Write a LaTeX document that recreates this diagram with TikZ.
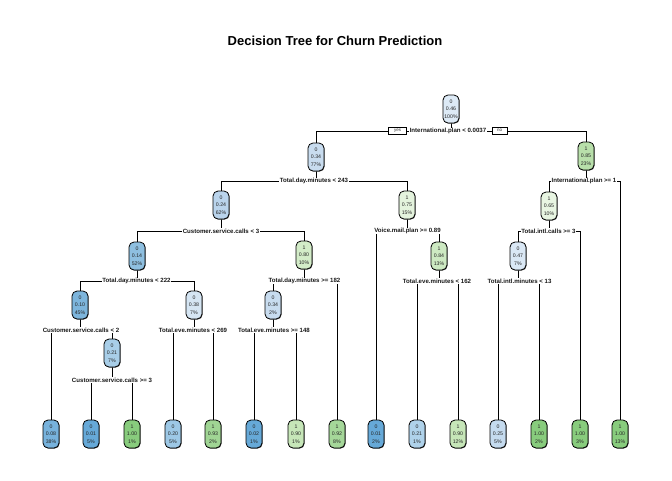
\documentclass[tikz,border=0pt]{standalone}
\usepackage{fontspec}
\setmainfont{Liberation Sans}
\usetikzlibrary{shadows}
\pgfdeclarelayer{background}
\pgfsetlayers{background,main}
\definecolor{b46}{HTML}{DDEAF6}
\definecolor{b47}{HTML}{DAE8F5}
\definecolor{b38}{HTML}{D5E5F3}
\definecolor{b34}{HTML}{C8DCEF}
\definecolor{b25}{HTML}{C5DBEF}
\definecolor{b24}{HTML}{BAD4EC}
\definecolor{b21}{HTML}{A8CEE8}
\definecolor{b21l}{HTML}{AFD2EA}
\definecolor{b20}{HTML}{9DC8E6}
\definecolor{b14}{HTML}{8EBFE0}
\definecolor{b10}{HTML}{7DB5DC}
\definecolor{b08}{HTML}{77B2DC}
\definecolor{b01}{HTML}{66A9D8}
\definecolor{g65}{HTML}{E8F5E2}
\definecolor{g75}{HTML}{E4F3DD}
\definecolor{g80}{HTML}{D3ECC8}
\definecolor{g84}{HTML}{CDE9C2}
\definecolor{g85}{HTML}{B8DFAA}
\definecolor{g90}{HTML}{C6E6B8}
\definecolor{g92}{HTML}{A5D799}
\definecolor{g93}{HTML}{A0D594}
\definecolor{g100}{HTML}{88CC7D}
\tikzset{
  tnode/.style={draw=black, line width=0.8pt, rounded corners=5pt,
    minimum width=16pt, minimum height=28pt, inner sep=0pt, align=center,
    text=black!85, font=\fontsize{5.2}{7.5}\selectfont,
    drop shadow={shadow xshift=0.6pt, shadow yshift=-0.6pt, fill=black!70, opacity=1}},
  slabel/.style={fill=white, inner sep=0.6pt, text=black!90,
    font=\fontsize{6.1}{7}\selectfont\bfseries},
  ynbox/.style={draw=black, line width=0.6pt, fill=white, inner sep=0pt,
    minimum height=7pt, text=black!80, font=\fontsize{4.5}{5}\selectfont},
  edge/.style={draw=black, line width=0.8pt}
}
\begin{document}
\begin{tikzpicture}[x=1pt,y=-1pt]
\useasboundingbox (0,0) rectangle (672,480);
\node[font=\fontsize{13}{15}\selectfont\bfseries] (title) at (335,41) {Decision Tree for Churn Prediction};
% internal nodes
\node[tnode, fill=b46] (n1) at (451,109) {0\\0.46\\100\%};
\node[tnode, fill=b34] (n2) at (316,157) {0\\0.34\\77\%};
\node[tnode, fill=g85] (n3) at (586,156) {1\\0.85\\23\%};
\node[tnode, fill=b24] (n4) at (221,205) {0\\0.24\\62\%};
\node[tnode, fill=g75] (n5) at (407,205) {1\\0.75\\15\%};
\node[tnode, fill=g65] (n6) at (549,206) {1\\0.65\\10\%};
\node[tnode, fill=b14] (n8) at (137,256) {0\\0.14\\52\%};
\node[tnode, fill=g80] (n9) at (304,255) {1\\0.80\\10\%};
\node[tnode, fill=g84] (n10) at (439,256) {1\\0.84\\13\%};
\node[tnode, fill=b47] (n12) at (518,256) {0\\0.47\\7\%};
\node[tnode, fill=b10] (n16) at (80,305) {0\\0.10\\45\%};
\node[tnode, fill=b38] (n17) at (194,305) {0\\0.38\\7\%};
\node[tnode, fill=b34] (n18) at (273,305) {0\\0.34\\2\%};
\node[tnode, fill=b21] (n32) at (112,353) {0\\0.21\\7\%};
% leaves
\node[tnode, fill=b08] (L1) at (51,434) {0\\0.08\\38\%};
\node[tnode, fill=b01] (L2) at (91,434) {0\\0.01\\5\%};
\node[tnode, fill=g100] (L3) at (132,434) {1\\1.00\\1\%};
\node[tnode, fill=b20] (L4) at (173,434) {0\\0.20\\5\%};
\node[tnode, fill=g93] (L5) at (213,434) {1\\0.93\\2\%};
\node[tnode, fill=b01] (L6) at (254,434) {0\\0.02\\1\%};
\node[tnode, fill=g90] (L7) at (296,434) {1\\0.90\\1\%};
\node[tnode, fill=g92] (L8) at (337,434) {1\\0.92\\8\%};
\node[tnode, fill=b01] (L9) at (376,434) {0\\0.01\\2\%};
\node[tnode, fill=b21l] (L10) at (417,434) {0\\0.21\\1\%};
\node[tnode, fill=g90] (L11) at (458,434) {1\\0.90\\12\%};
\node[tnode, fill=b25] (L12) at (498,434) {0\\0.25\\5\%};
\node[tnode, fill=g100] (L13) at (539,434) {1\\1.00\\2\%};
\node[tnode, fill=g100] (L14) at (580,434) {1\\1.00\\3\%};
\node[tnode, fill=g100] (L15) at (620,434) {1\\1.00\\13\%};
% split labels
\node[slabel] (s1) at (448,131) {International.plan < 0.0037};
\node[ynbox, minimum width=18pt] (yesbox) at (397.5,130.5) {yes};
\node[ynbox, minimum width=15pt] (nobox) at (499.5,130.5) {no};
\node[slabel] (s2) at (314,181) {Total.day.minutes < 243};
\node[slabel] (s3) at (584,181) {International.plan >= 1};
\node[slabel] (s4) at (221,231) {Customer.service.calls < 3};
\node[slabel] (s5) at (407.5,231) {Voice.mail.plan >= 0.89};
\node[slabel] (s6) at (548.5,231) {Total.intl.calls >= 3};
\node[slabel] (s8) at (136.5,281) {Total.day.minutes < 222};
\node[slabel] (s9) at (304.5,281) {Total.day.minutes >= 182};
\node[slabel] (s10) at (437,281) {Total.eve.minutes < 162};
\node[slabel] (s7) at (519.5,281) {Total.intl.minutes < 13};
\node[slabel] (s11) at (81,330) {Customer.service.calls < 2};
\node[slabel] (s12) at (193,330) {Total.eve.minutes < 269};
\node[slabel] (s13) at (274,330) {Total.eve.minutes >= 148};
\node[slabel] (s14) at (112,380) {Customer.service.calls >= 3};
\begin{pgfonlayer}{background}
\foreach \p/\s/\a/\b in {n1/s1/n2/n3, n2/s2/n4/n5, n3/s3/n6/L15, n4/s4/n8/n9,
   n5/s5/L9/n10, n6/s6/n12/L14, n8/s8/n16/n17, n9/s9/n18/L8, n10/s10/L10/L11,
   n12/s7/L12/L13, n16/s11/L1/n32, n17/s12/L4/L5, n18/s13/L6/L7, n32/s14/L2/L3}{
  \draw[edge] (\p.south) -- (\p.south |- \s.center);
  \draw[edge] (\p.south |- \s.center) -| (\a.north);
  \draw[edge] (\p.south |- \s.center) -| (\b.north);
}
\end{pgfonlayer}
\end{tikzpicture}
\end{document}
